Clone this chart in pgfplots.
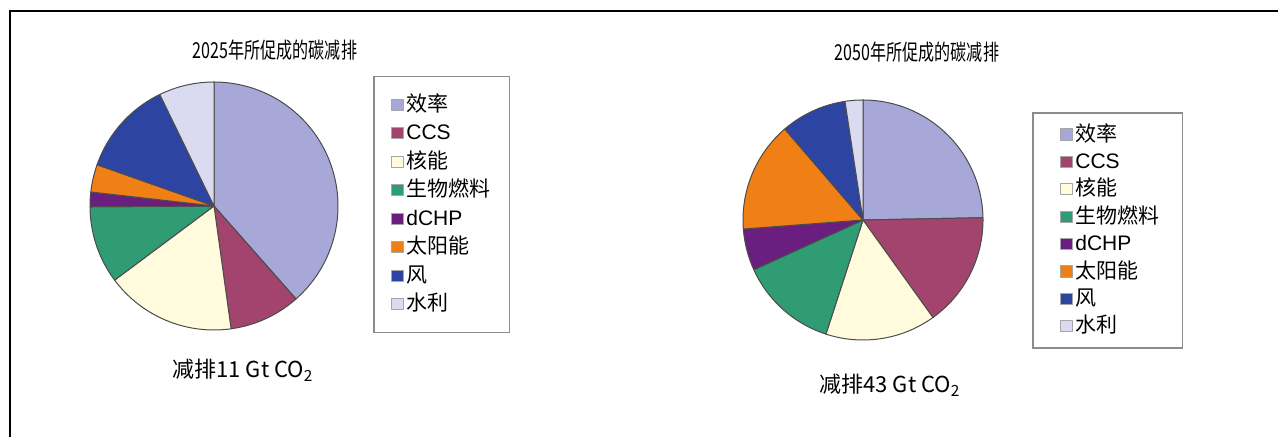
\documentclass[border=0pt]{standalone}
\usepackage{pgfplots}
\usepackage{pgfplotstable}
\pgfplotsset{compat=1.18}
\usepackage{fontspec}
\setmainfont{Noto Sans CJK SC}
\newfontfamily\lat{Liberation Sans}

\definecolor{cEff}{HTML}{A7A8D8}
\definecolor{cCCS}{HTML}{A3446F}
\definecolor{cNuc}{HTML}{FFFBDC}
\definecolor{cBio}{HTML}{2F9C74}
\definecolor{cCHP}{HTML}{6A1E80}
\definecolor{cSol}{HTML}{F07F15}
\definecolor{cWind}{HTML}{2E44A3}
\definecolor{cHyd}{HTML}{DADBF0}

% shares in per cent, clockwise from twelve o'clock
\pgfplotstableread{
share colour
38.5 cEff
9.3  cCCS
17.0 cNuc
10.1 cBio
1.9  cCHP
3.6  cSol
12.4 cWind
7.2  cHyd
}\pieA
\pgfplotstableread{
share colour
24.7 cEff
15.4 cCCS
14.9 cNuc
13.2 cBio
5.6  cCHP
14.9 cSol
8.9  cWind
2.4  cHyd
}\pieB

\newcommand\pieslices[1]{%
  \def\cum{0}%
  \pgfplotsforeachungrouped \i in {0,...,7}{%
    \pgfplotstablegetelem{\i}{share}\of#1\let\val\pgfplotsretval
    \pgfplotstablegetelem{\i}{colour}\of#1\let\col\pgfplotsretval
    \pgfmathsetmacro\angA{3.6*\cum}%
    \pgfmathsetmacro\cum{\cum+\val}%
    \pgfmathsetmacro\angB{3.6*\cum}%
    \edef\slice{\noexpand\addplot[fill=\col, draw=black!70, line width=0.5pt,
      line join=round, domain=\angA:\angB, samples=60]
      ({sin(x)},{cos(x)}) -- (axis cs:0,0) -- cycle;}%
    \slice
  }%
}

\def\lpad{1pt}
\pgfplotsset{
  pie/.style={
    width=#1, height=#1, scale only axis, anchor=center,
    xmin=-1, xmax=1, ymin=-1, ymax=1, hide axis, clip=false,
    legend cell align=left,
    legend image code/.code={
      \path[draw=none, fill=none] (0pt,0pt) -- (\lpad,0pt);
      \draw[##1, draw=black!35, line width=0.4pt] (\lpad,-2.8pt) rectangle ++(5.6pt,5.6pt);},
    legend style={draw=black!45, line width=0.8pt, fill=white,
      font=\fontsize{10.5}{12}\selectfont, inner xsep=8pt, inner ysep=6pt,
      nodes={inner sep=1.5pt, text height=9pt, text depth=2.25pt},
      anchor=north west},
    legend entries={效率,{\lat CCS},核能,生物燃料,{\lat dCHP},太阳能,风,水利},
  },
}

\begin{document}
% picture laid out on the reference's pixel grid, 1 px = 0.5 pt, y measured upward
\begin{tikzpicture}[x=0.5pt, y=0.5pt]
\useasboundingbox (0,0) rectangle (1278,437);
\draw[line width=1.4pt] (10,0) -- (10,426) -- (1290,426);

\node[font=\fontsize{11}{13}\selectfont, xscale=0.73] at (275,387) {2025年所促成的碳减排};
\node[font=\fontsize{11}{13}\selectfont, xscale=0.73] at (917,385) {2050年所促成的碳减排};
\node[font=\fontsize{11}{13}\selectfont] at (243,67) {减排11 Gt CO\textsubscript{2}};
\node[font=\fontsize{11}{13}\selectfont] at (890,52) {减排43 Gt CO\textsubscript{2}};

\def\lpad{1pt}
\begin{axis}[pie=124pt, at={(107pt,115.5pt)},
  legend style={at={(1.141,1.026)}, inner ysep=7pt}]
\pieslices\pieA
\end{axis}

\def\lpad{6pt}
\begin{axis}[pie=120pt, at={(431.5pt,108.5pt)},
  legend style={at={(1.204,0.95)}, inner ysep=4pt, inner xsep=10pt,
    nodes={inner sep=1.5pt, text height=8.7pt, text depth=2pt}}]
\def\lpad{4pt}
\pieslices\pieB
\end{axis}
\end{tikzpicture}
\end{document}
